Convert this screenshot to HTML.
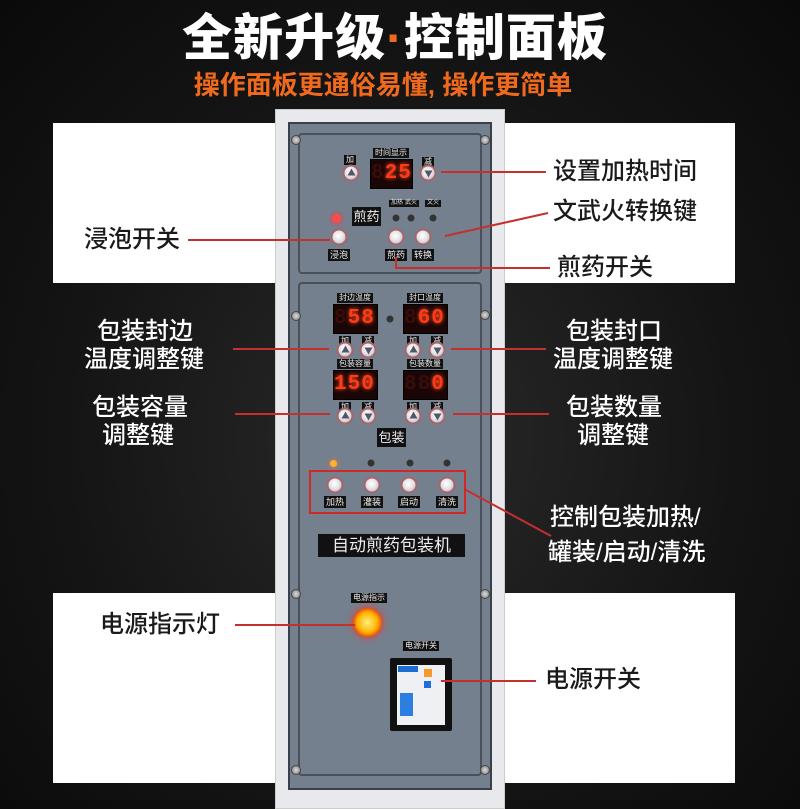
<!DOCTYPE html>
<html><head><meta charset="utf-8">
<style>
*{margin:0;padding:0;box-sizing:border-box}
body{width:800px;height:800px;overflow:hidden;position:relative;background:radial-gradient(ellipse at 50% 55%,#2a2a2a 0%,#141414 60%,#0a0a0a 100%);font-family:"Liberation Sans","Noto Sans CJK SC",sans-serif}
.a{position:absolute}
.band{position:absolute;background:#fff}
.t{position:absolute;font-size:24px;line-height:30px;white-space:nowrap;font-weight:500}
.dk{color:#1a1a1a}.wt{color:#fff}
.ln{position:absolute;height:2px;background:#c3302e}
.btn{position:absolute;width:17px;height:17px;border-radius:50%;background:radial-gradient(circle at 45% 40%,#fff 0%,#e6e6ea 45%,#a9aab3 100%);border:2px solid #a7646a;transform:translate(-50%,-50%)}
.up::after,.dn::after{content:"";position:absolute;left:3px;top:3px;border-left:4px solid transparent;border-right:4px solid transparent}
.up::after{border-bottom:7px solid #556;top:2px}
.dn::after{border-top:7px solid #556;top:4px}
.lb{position:absolute;background:#111;color:#eee;font-size:8px;line-height:10px;padding:0 2px;transform:translateX(-50%);white-space:nowrap}
.disp{position:absolute;background:#1a0606;border:1px solid #000;color:#ff3a18;font-family:"Liberation Mono",monospace;font-weight:bold;font-size:21px;line-height:28px;text-align:right;padding-right:3px;letter-spacing:1px;text-shadow:0 0 4px #ff5020}
.disp span{color:#3a0c0c;text-shadow:none}
.led{position:absolute;width:7px;height:7px;border-radius:50%;background:#333;transform:translate(-50%,-50%)}
.screw{position:absolute;width:10px;height:10px;border-radius:50%;background:radial-gradient(#ddd,#777);border:1px solid #444;transform:translate(-50%,-50%)}
</style></head><body>
<div class="band" style="left:53px;top:123px;width:682px;height:160px"></div>
<div class="band" style="left:53px;top:593px;width:682px;height:190px"></div>

<div class="a" style="left:0;top:8px;width:790px;text-align:center;color:#fff;font-size:50px;font-weight:900;line-height:60px;letter-spacing:1px">全新升级<span style="color:#f06a1e">·</span>控制面板</div>
<div class="a" style="left:0;top:69px;width:766px;text-align:center;color:#f06a1e;font-size:26px;font-weight:bold;line-height:32px">操作面板更通俗易懂, 操作更简单</div>

<!-- panel -->
<div class="a" style="left:275px;top:109px;width:230px;height:700px;background:#e8e9ec;border:1px solid #ccc"></div>
<div class="a" style="left:288px;top:122px;width:204px;height:668px;background:#75808f;border:2px solid #3b3f47"></div>
<div class="a" style="left:298px;top:133px;width:184px;height:141px;border:2px solid #4a505a;border-radius:4px"></div>
<div class="a" style="left:298px;top:282px;width:184px;height:494px;border:2px solid #4a505a;border-radius:4px"></div>
<div class="screw" style="left:296px;top:140px"></div><div class="screw" style="left:485px;top:140px"></div>
<div class="screw" style="left:296px;top:316px"></div><div class="screw" style="left:485px;top:315px"></div>
<div class="screw" style="left:296px;top:594px"></div><div class="screw" style="left:485px;top:594px"></div>
<div class="screw" style="left:296px;top:770px"></div><div class="screw" style="left:485px;top:770px"></div>

<!-- time -->
<div class="lb" style="left:391px;top:148px">时间显示</div>
<div class="disp" style="left:370px;top:159px;width:43px;height:30px"><span>8</span>25</div>
<div class="lb" style="left:350px;top:155px">加</div><div class="lb" style="left:428px;top:157px">减</div>
<div class="btn up" style="left:351px;top:173px"></div><div class="btn dn" style="left:428px;top:173px"></div>
<div class="a" style="left:332px;top:214px;width:9px;height:9px;border-radius:50%;background:#ff4a4a;box-shadow:0 0 6px #ff3030"></div>
<div class="a" style="left:352px;top:207px;width:29px;height:19px;background:#111;color:#eee;font-size:13px;line-height:19px;text-align:center">煎药</div>
<div class="lb" style="left:397px;top:200px;font-size:6px;line-height:7px">加热</div>
<div class="lb" style="left:411px;top:200px;font-size:6px;line-height:7px">武火</div>
<div class="lb" style="left:433px;top:200px;font-size:6px;line-height:7px">文火</div>
<div class="led" style="left:396px;top:218px"></div><div class="led" style="left:411px;top:218px"></div><div class="led" style="left:433px;top:218px"></div>
<div class="btn" style="left:339px;top:237px"></div><div class="btn" style="left:396px;top:237px"></div><div class="btn" style="left:423px;top:237px"></div>
<div class="lb" style="left:339px;top:249px;font-size:9px;line-height:12px">浸泡</div>
<div class="lb" style="left:396px;top:249px;font-size:9px;line-height:12px">煎药</div>
<div class="lb" style="left:423px;top:249px;font-size:9px;line-height:12px">转换</div>

<!-- pack displays -->
<div class="lb" style="left:355px;top:293px">封边温度</div><div class="lb" style="left:425px;top:293px">封口温度</div>
<div class="disp" style="left:333px;top:304px;width:45px;height:30px"><span>8</span>58</div>
<div class="disp" style="left:403px;top:304px;width:45px;height:30px"><span>8</span>60</div>
<div class="led" style="left:390px;top:319px"></div>
<div class="lb" style="left:345px;top:336px">加</div><div class="lb" style="left:368px;top:336px">减</div>
<div class="lb" style="left:413px;top:336px">加</div><div class="lb" style="left:437px;top:336px">减</div>
<div class="btn up" style="left:345px;top:350px"></div><div class="btn dn" style="left:368px;top:350px"></div>
<div class="btn up" style="left:413px;top:350px"></div><div class="btn dn" style="left:437px;top:350px"></div>
<div class="lb" style="left:355px;top:359px">包装容量</div><div class="lb" style="left:425px;top:359px">包装数量</div>
<div class="disp" style="left:333px;top:370px;width:45px;height:30px">150</div>
<div class="disp" style="left:403px;top:370px;width:45px;height:30px"><span>88</span>0</div>
<div class="lb" style="left:345px;top:402px">加</div><div class="lb" style="left:368px;top:402px">减</div>
<div class="lb" style="left:413px;top:402px">加</div><div class="lb" style="left:437px;top:402px">减</div>
<div class="btn up" style="left:345px;top:416px"></div><div class="btn dn" style="left:368px;top:416px"></div>
<div class="btn up" style="left:413px;top:416px"></div><div class="btn dn" style="left:437px;top:416px"></div>
<div class="a" style="left:377px;top:428px;width:29px;height:19px;background:#111;color:#eee;font-size:13px;line-height:19px;text-align:center">包装</div>

<div class="a" style="left:330px;top:460px;width:7px;height:7px;border-radius:50%;background:#ffb030;box-shadow:0 0 5px #ff8020"></div>
<div class="led" style="left:371px;top:463px"></div><div class="led" style="left:410px;top:463px"></div><div class="led" style="left:447px;top:463px"></div>
<div class="a" style="left:309px;top:470px;width:157px;height:44px;border:2px solid #d02828"></div>
<div class="btn" style="left:335px;top:485px"></div><div class="btn" style="left:372px;top:485px"></div>
<div class="btn" style="left:409px;top:485px"></div><div class="btn" style="left:447px;top:485px"></div>
<div class="lb" style="left:335px;top:496px;font-size:9px;line-height:12px">加热</div>
<div class="lb" style="left:372px;top:496px;font-size:9px;line-height:12px">灌装</div>
<div class="lb" style="left:409px;top:496px;font-size:9px;line-height:12px">启动</div>
<div class="lb" style="left:447px;top:496px;font-size:9px;line-height:12px">清洗</div>
<div class="a" style="left:318px;top:534px;width:147px;height:23px;background:#111;color:#eee;font-size:17px;line-height:23px;text-align:center">自动煎药包装机</div>

<div class="lb" style="left:369px;top:593px">电源指示</div>
<div class="a" style="left:353px;top:608px;width:29px;height:29px;border-radius:50%;background:radial-gradient(circle,#fff27a 0%,#ffb000 50%,#e52010 80%);box-shadow:0 0 8px #ff3020"></div>
<div class="lb" style="left:421px;top:641px">电源开关</div>
<div class="a" style="left:390px;top:658px;width:62px;height:73px;background:#111;border-radius:2px"></div>
<div class="a" style="left:397px;top:665px;width:48px;height:60px;background:#eef0f3"></div>
<div class="a" style="left:398px;top:666px;width:20px;height:6px;background:#1c6fd0"></div>
<div class="a" style="left:424px;top:669px;width:8px;height:8px;background:#f59a2a"></div>
<div class="a" style="left:424px;top:681px;width:7px;height:7px;background:#1e6fd8"></div>
<div class="a" style="left:400px;top:693px;width:13px;height:23px;background:#2a7fe0"></div>

<!-- lines -->
<div class="ln" style="left:188px;top:239px;width:142px"></div>
<div class="ln" style="left:233px;top:348px;width:96px"></div>
<div class="ln" style="left:235px;top:413px;width:95px"></div>
<div class="ln" style="left:235px;top:624px;width:120px"></div>
<div class="ln" style="left:441px;top:171px;width:105px"></div>
<div class="ln" style="left:451px;top:348px;width:95px"></div>
<div class="ln" style="left:453px;top:413px;width:96px"></div>
<div class="ln" style="left:441px;top:680px;width:95px"></div>
<svg class="a" style="left:0;top:0" width="800" height="800">
<g stroke="#c3302e" stroke-width="2" fill="none">
<line x1="445" y1="236" x2="548" y2="213"/>
<polyline points="396,257 396,268 550,268"/>
<line x1="466" y1="490" x2="551" y2="536"/>
</g></svg>

<!-- labels -->
<div class="t dk" style="left:84px;top:225px">浸泡开关</div>
<div class="t wt" style="left:97px;top:317px">包装封边</div>
<div class="t wt" style="left:84px;top:345px">温度调整键</div>
<div class="t wt" style="left:92px;top:393px">包装容量</div>
<div class="t wt" style="left:102px;top:421px">调整键</div>
<div class="t dk" style="left:100px;top:610px">电源指示灯</div>
<div class="t dk" style="left:553px;top:157px">设置加热时间</div>
<div class="t dk" style="left:553px;top:197px">文武火转换键</div>
<div class="t dk" style="left:557px;top:253px">煎药开关</div>
<div class="t wt" style="left:566px;top:317px">包装封口</div>
<div class="t wt" style="left:553px;top:345px">温度调整键</div>
<div class="t wt" style="left:566px;top:393px">包装数量</div>
<div class="t wt" style="left:577px;top:421px">调整键</div>
<div class="t wt" style="left:550px;top:503px">控制包装加热/</div>
<div class="t wt" style="left:548px;top:538px">罐装/启动/清洗</div>
<div class="t dk" style="left:545px;top:665px">电源开关</div>
</body></html>
